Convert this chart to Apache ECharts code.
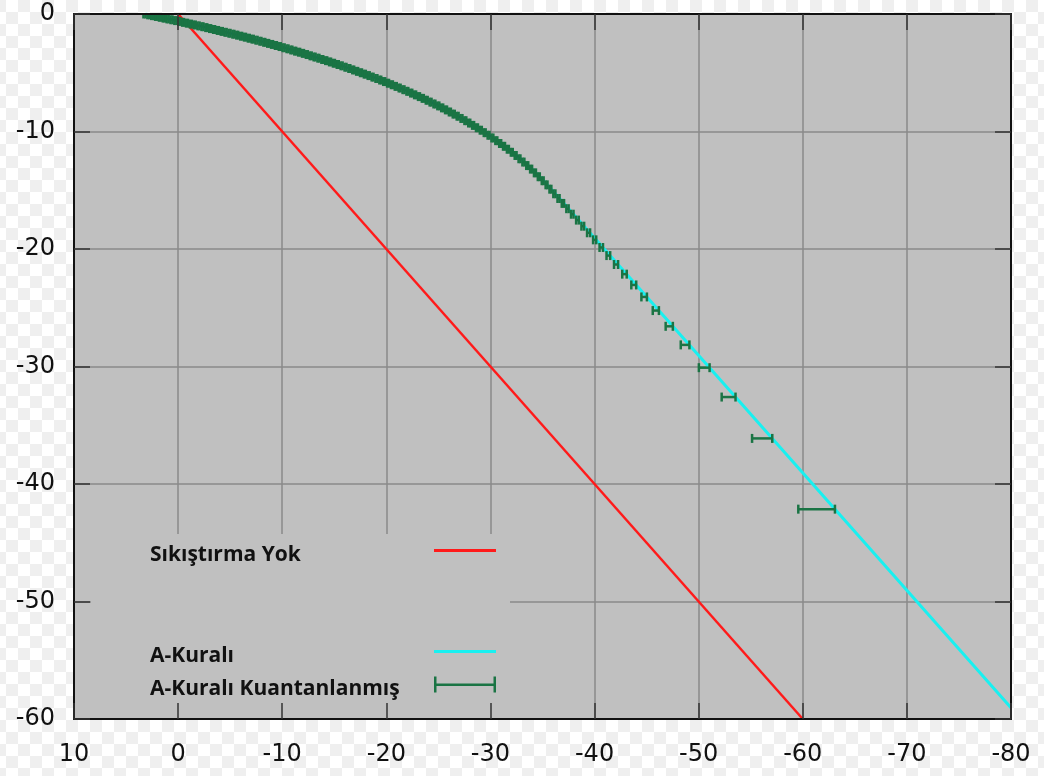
<!DOCTYPE html>
<html>
<head>
<meta charset="utf-8">
<script src="https://cdn.jsdelivr.net/npm/echarts@6/dist/echarts.min.js"></script>
<style>
  html, body { margin: 0; padding: 0; }
  body {
    width: 1044px; height: 776px;
    background: repeating-conic-gradient(#efefef 0% 25%, #ffffff 0% 50%) 6px 0 / 24px 24px;
  }
  #chart { width: 1044px; height: 776px; }
</style>
</head>
<body>
<div id="chart"></div>
<script>
// Giriş seviyesi (dB) — sıkıştırmasız referans doğrusu
const noCompX = [0, -60];
const noCompY = [0, -60];

// A-kuralı karakteristiği (giriş dB, çıkış dB)
const aLawX = [3.14, 2, 0, -2.5, -5, -7.5, -10, -12.5, -15, -17.5, -20, -22.5, -25, -27.5,
               -30, -32, -33, -34, -35, -35.7, -80];
const aLawY = [0, -0.21, -0.59, -1.10, -1.63, -2.20, -2.81, -3.47, -4.18, -4.95, -5.79, -6.73,
               -7.79, -8.99, -10.38, -11.68, -12.40, -13.20, -14.08, -14.76, -59.05];
// logaritmik bölüm (mavi iz)
const aLawLogX = aLawX.slice(0, 17);
const aLawLogY = aLawY.slice(0, 17);

// Kuantalanmış çıkış seviyeleri (dB) ve her seviyenin giriş aralığı (dB)
const quantLevel = [
  -42.14, -36.12, -32.60, -30.10, -28.16, -26.58, -25.24, -24.08, -23.06, -22.14,
  -21.32, -20.56, -19.87, -19.22, -18.62, -18.06, -17.54, -17.04, -16.57, -16.12,
  -15.70, -15.30, -14.91, -14.54, -14.19, -13.85, -13.52, -13.20, -12.90, -12.60,
  -12.32, -12.04, -11.77, -11.51, -11.26, -11.02, -10.78, -10.55, -10.32, -10.10,
  -9.89, -9.68, -9.48, -9.28, -9.08, -8.89, -8.70, -8.52, -8.34, -8.16,
  -7.99, -7.82, -7.66, -7.50, -7.34, -7.18, -7.03, -6.88, -6.73, -6.58,
  -6.44, -6.30, -6.16, -6.02, -5.89, -5.75, -5.62, -5.49, -5.37, -5.24,
  -5.12, -5.00, -4.88, -4.76, -4.64, -4.53, -4.41, -4.30, -4.19, -4.08,
  -3.97, -3.87, -3.76, -3.66, -3.56, -3.45, -3.35, -3.25, -3.16, -3.06,
  -2.96, -2.87, -2.77, -2.68, -2.59, -2.50, -2.41, -2.32, -2.23, -2.14,
  -2.06, -1.97, -1.89, -1.80, -1.72, -1.64, -1.56, -1.48, -1.40, -1.32,
  -1.24, -1.16, -1.08, -1.01, -0.93, -0.86, -0.78, -0.71, -0.63, -0.56,
  -0.49, -0.42, -0.35, -0.28, -0.21, -0.14, -0.07, 0.00
];
const quantStart = [
  -63.09, -57.07, -53.54, -51.05, -49.11, -47.52, -46.18, -45.03, -44.00, -43.09,
  -42.26, -41.50, -40.81, -40.16, -39.57, -39.00, -38.48, -37.98, -37.51, -37.07,
  -36.64, -36.24, -35.85, -35.48, -35.11, -34.74, -34.37, -34.00, -33.63, -33.26,
  -32.88, -32.51, -32.14, -31.77, -31.40, -31.03, -30.66, -30.28, -29.91, -29.54,
  -29.17, -28.80, -28.43, -28.06, -27.68, -27.31, -26.94, -26.57, -26.20, -25.83,
  -25.46, -25.09, -24.71, -24.34, -23.97, -23.60, -23.23, -22.86, -22.49, -22.11,
  -21.74, -21.37, -21.00, -20.63, -20.26, -19.89, -19.51, -19.14, -18.77, -18.40,
  -18.03, -17.66, -17.29, -16.91, -16.54, -16.17, -15.80, -15.43, -15.06, -14.69,
  -14.32, -13.94, -13.57, -13.20, -12.83, -12.46, -12.09, -11.72, -11.34, -10.97,
  -10.60, -10.23, -9.86, -9.49, -9.12, -8.74, -8.37, -8.00, -7.63, -7.26,
  -6.89, -6.52, -6.15, -5.77, -5.40, -5.03, -4.66, -4.29, -3.92, -3.55,
  -3.17, -2.80, -2.43, -2.06, -1.69, -1.32, -0.95, -0.57, -0.20, 0.17,
  0.54, 0.91, 1.28, 1.65, 2.03, 2.40, 2.77, 3.14
];
const quantEnd = [
  -59.57, -55.13, -52.21, -50.02, -48.28, -46.83, -45.59, -44.50, -43.53, -42.66,
  -41.87, -41.15, -40.48, -39.86, -39.28, -38.74, -38.23, -37.74, -37.29, -36.85,
  -36.44, -36.04, -35.67, -35.30, -34.93, -34.55, -34.18, -33.81, -33.44, -33.07,
  -32.70, -32.33, -31.96, -31.58, -31.21, -30.84, -30.47, -30.10, -29.73, -29.36,
  -28.98, -28.61, -28.24, -27.87, -27.50, -27.13, -26.76, -26.38, -26.01, -25.64,
  -25.27, -24.90, -24.53, -24.16, -23.79, -23.41, -23.04, -22.67, -22.30, -21.93,
  -21.56, -21.19, -20.81, -20.44, -20.07, -19.70, -19.33, -18.96, -18.59, -18.21,
  -17.84, -17.47, -17.10, -16.73, -16.36, -15.99, -15.61, -15.24, -14.87, -14.50,
  -14.13, -13.76, -13.39, -13.02, -12.64, -12.27, -11.90, -11.53, -11.16, -10.79,
  -10.42, -10.04, -9.67, -9.30, -8.93, -8.56, -8.19, -7.82, -7.44, -7.07,
  -6.70, -6.33, -5.96, -5.59, -5.22, -4.85, -4.47, -4.10, -3.73, -3.36,
  -2.99, -2.62, -2.25, -1.87, -1.50, -1.13, -0.76, -0.39, -0.02, 0.36,
  0.73, 1.10, 1.47, 1.84, 2.21, 2.58, 2.95, 3.33
];

const NAME_NONE = 'Sıkıştırma Yok';
const NAME_ALAW = 'A-Kuralı';
const NAME_QUANT = 'A-Kuralı Kuantanlanmış';

const RED = '#ff1a1a';
const CYAN = '#19f0f0';
const BLUE = '#1414c8';
const GREEN = '#1a7444';
const PLOT_BG = '#c0c0c0';
const GRID_LINE = '#8a8a8a';
const FRAME = '#111111';

const pairs = (xs, ys) => xs.map((x, i) => [x, ys[i]]);
const quantData = quantLevel.map((y, i) => [quantStart[i], quantEnd[i], y]);

function renderErrorBar(params, api) {
  const y = api.value(2);
  const a = api.coord([api.value(0), y]);
  const b = api.coord([api.value(1), y]);
  const cap = 4.5;
  const style = { stroke: GREEN, lineWidth: 2.5 };
  return {
    type: 'group',
    children: [
      { type: 'line', shape: { x1: a[0], y1: a[1], x2: b[0], y2: b[1] }, style },
      { type: 'line', shape: { x1: a[0], y1: a[1] - cap, x2: a[0], y2: a[1] + cap }, style },
      { type: 'line', shape: { x1: b[0], y1: b[1] - cap, x2: b[0], y2: b[1] + cap }, style }
    ]
  };
}

const axisFont = { fontFamily: 'DejaVu Sans', fontSize: 24, color: FRAME };
const xScale = { type: 'value', min: -80, max: 10, interval: 10, inverse: true };
const yScale = { type: 'value', min: -60, max: 0, interval: 10 };
const frameLine = { show: true, onZero: false, lineStyle: { color: FRAME, width: 2 } };
const innerTick = { show: true, inside: true, length: 16, lineStyle: { color: '#333', width: 1.5 } };

// legend: text on the left, sample on the right at a fixed column
const legendText = {
  fontFamily: 'Open Sans', fontWeight: 'bold', fontSize: 21, color: '#111',
  rich: {
    t: {
      fontFamily: 'Open Sans', fontWeight: 'bold', fontSize: 21, color: '#111',
      width: 279, align: 'left', lineHeight: 21, padding: [10, 0, 0, 0]
    }
  }
};
const legendFormatter = (name) => '{t|' + name + '}';
const lineIcon = 'path://M0,0L0.01,0 M0,6.5h62v3h-62z M0,16L0.01,16';
const barIcon = 'path://M0,0h2.5v16h-2.5z M0,7h62v2.5h-62z M59.5,0h2.5v16h-2.5z';

const chart = echarts.init(document.getElementById('chart'), null, { renderer: 'canvas' });
chart.setOption({
  animation: false,
  grid: { left: 74, top: 14, right: 33, bottom: 57, show: true, backgroundColor: PLOT_BG, borderWidth: 0 },
  xAxis: [
    Object.assign({}, xScale, {
      position: 'bottom', z: 0,
      axisLine: { show: false, onZero: false }, axisTick: { show: false }, axisLabel: { show: false },
      splitLine: { show: true, lineStyle: { color: GRID_LINE, width: 1.5 } }
    }),
    Object.assign({}, xScale, {
      position: 'bottom', z: 10,
      axisLine: frameLine, axisTick: innerTick,
      axisLabel: Object.assign({ margin: 24 }, axisFont),
      splitLine: { show: false }
    }),
    Object.assign({}, xScale, {
      position: 'top', z: 10,
      axisLine: frameLine, axisTick: innerTick, axisLabel: { show: false },
      splitLine: { show: false }
    })
  ],
  yAxis: [
    Object.assign({}, yScale, {
      position: 'left', z: 0,
      axisLine: { show: false, onZero: false }, axisTick: { show: false }, axisLabel: { show: false },
      splitLine: { show: true, lineStyle: { color: GRID_LINE, width: 1.5 } }
    }),
    Object.assign({}, yScale, {
      position: 'left', z: 10,
      axisLine: frameLine, axisTick: innerTick,
      axisLabel: Object.assign({ margin: 19 }, axisFont),
      splitLine: { show: false }
    }),
    Object.assign({}, yScale, {
      position: 'right', z: 10,
      axisLine: frameLine, axisTick: innerTick, axisLabel: { show: false },
      splitLine: { show: false }
    })
  ],
  graphic: [{
    type: 'rect', left: 91, top: 534, z: 5,
    shape: { width: 419, height: 185 },
    style: { fill: PLOT_BG }
  }],
  legend: [
    {
      data: [{ name: NAME_NONE, icon: lineIcon }],
      left: 150, top: 535, padding: 0, z: 12,
      align: 'right', itemWidth: 62, itemHeight: 16,
      selectedMode: false, textStyle: legendText, formatter: legendFormatter
    },
    {
      data: [
        { name: NAME_ALAW, icon: lineIcon },
        { name: NAME_QUANT, icon: barIcon }
      ],
      orient: 'vertical',
      left: 150, top: 636, padding: 0, itemGap: 2, z: 12,
      align: 'right', itemWidth: 62, itemHeight: 16,
      selectedMode: false, textStyle: legendText, formatter: legendFormatter
    }
  ],
  series: [
    {
      name: NAME_NONE, type: 'line', xAxisIndex: 0, yAxisIndex: 0,
      data: pairs(noCompX, noCompY), symbol: 'none', z: 2,
      lineStyle: { color: RED, width: 2.5 }, itemStyle: { color: RED }
    },
    {
      name: NAME_ALAW, type: 'line', xAxisIndex: 0, yAxisIndex: 0,
      data: pairs(aLawX, aLawY), symbol: 'none', z: 2,
      lineStyle: { color: CYAN, width: 3 }, itemStyle: { color: CYAN }
    },
    {
      name: 'A-Kuralı (log)', type: 'line', xAxisIndex: 0, yAxisIndex: 0,
      data: pairs(aLawLogX, aLawLogY), symbol: 'none', z: 3,
      lineStyle: { color: BLUE, width: 2 }, itemStyle: { color: BLUE }
    },
    {
      name: NAME_QUANT, type: 'custom', xAxisIndex: 0, yAxisIndex: 0,
      data: quantData, renderItem: renderErrorBar, clip: true, z: 4,
      encode: { x: [0, 1], y: 2 },
      itemStyle: { color: GREEN }
    }
  ]
});
</script>
</body>
</html>
